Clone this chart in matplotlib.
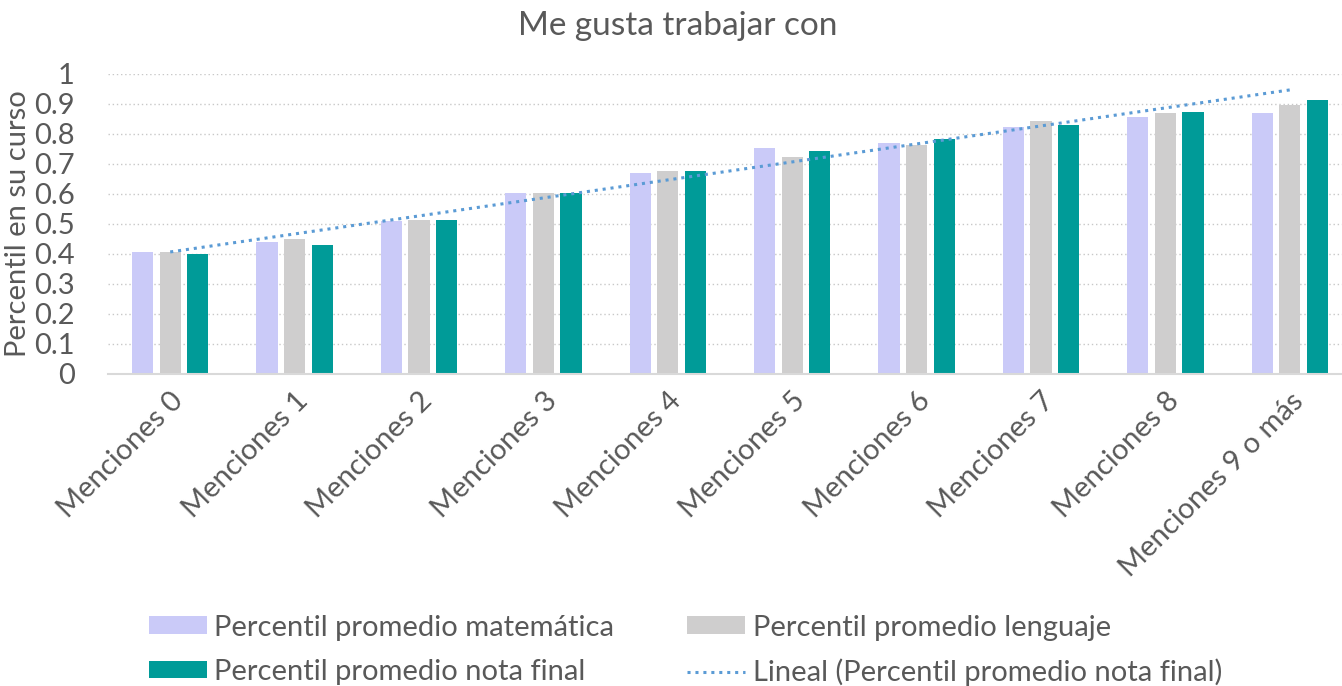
import numpy as np
import matplotlib
matplotlib.use("Agg")
import matplotlib.pyplot as plt

# --- datos ---------------------------------------------------------
categorias = ["Menciones 0", "Menciones 1", "Menciones 2", "Menciones 3", "Menciones 4",
              "Menciones 5", "Menciones 6", "Menciones 7", "Menciones 8", "Menciones 9 o más"]
matematica = [0.408, 0.441, 0.510, 0.602, 0.669, 0.752, 0.770, 0.822, 0.856, 0.871]
lenguaje   = [0.408, 0.449, 0.513, 0.602, 0.677, 0.724, 0.762, 0.842, 0.871, 0.898]
nota_final = [0.401, 0.431, 0.513, 0.602, 0.677, 0.744, 0.785, 0.830, 0.874, 0.912]
yticks = [0, 0.1, 0.2, 0.3, 0.4, 0.5, 0.6, 0.7, 0.8, 0.9, 1]
ytick_labels = ["0", "0.1", "0.2", "0.3", "0.4", "0.5", "0.6", "0.7", "0.8", "0.9", "1"]

# --- estilo --------------------------------------------------------
plt.rcParams['font.family'] = ['Lato', 'DejaVu Sans']
TXT = "#595959"
C_MAT, C_LEN, C_NOT, C_TR = "#CACAF8", "#CFCECE", "#009B98", "#5B9BD5"
FS = 21

fig = plt.figure(figsize=(13.42, 6.86), dpi=100)
ax = fig.add_axes([108/1342, 1 - 374/686, 1234/1342, 300/686])

x = np.arange(len(categorias))
w, off = 0.17, 0.222
b1 = ax.bar(x - off, matematica, w, color=C_MAT, label="Percentil promedio matemática", zorder=2)
b2 = ax.bar(x,       lenguaje,   w, color=C_LEN, label="Percentil promedio lenguaje", zorder=2)
b3 = ax.bar(x + off, nota_final, w, color=C_NOT, label="Percentil promedio nota final", zorder=2)

# línea de tendencia lineal sobre nota final
m, b = np.polyfit(x, nota_final, 1)
tr, = ax.plot(x, m * x + b, color=C_TR, lw=2.2, ls=(0, (1, 1.6)),
              label="Lineal (Percentil promedio nota final)", zorder=3)

# ejes
ax.set_xlim(-0.5, 9.42)
ax.set_ylim(0, 1)
ax.set_yticks(yticks)
ax.set_yticklabels(ytick_labels)
for s in ["top", "right", "left"]:
    ax.spines[s].set_visible(False)
ax.spines["bottom"].set_color("#D9D9D9")
ax.spines["bottom"].set_linewidth(1.5)
ax.yaxis.grid(True, color="#C8C8C8", ls=(0, (1, 2)), lw=1.0, zorder=0)
ax.tick_params(axis="y", length=0, pad=24, labelsize=FS, labelcolor=TXT)
ax.tick_params(axis="x", length=0, pad=10, labelsize=FS, labelcolor=TXT)
ax.set_xticks(x)
ax.set_xticklabels(categorias, rotation=45, ha="right", va="top", rotation_mode="anchor")
ax.set_ylabel("Percentil en su curso", fontsize=FS, color=TXT, labelpad=2)

fig.text(0.505, 0.962, "Me gusta trabajar con", ha="center", va="center", fontsize=24, color=TXT)

fig.legend(handles=[b1, b3, b2, tr], ncol=2, loc="upper left",
           bbox_to_anchor=(134/1342, 1 - 600/686), frameon=False, fontsize=FS,
           labelcolor=TXT, borderpad=0, handlelength=2.0, handleheight=0.55,
           handletextpad=0.25, columnspacing=2.5, labelspacing=0.62)

fig.savefig("out.png", dpi=100)
